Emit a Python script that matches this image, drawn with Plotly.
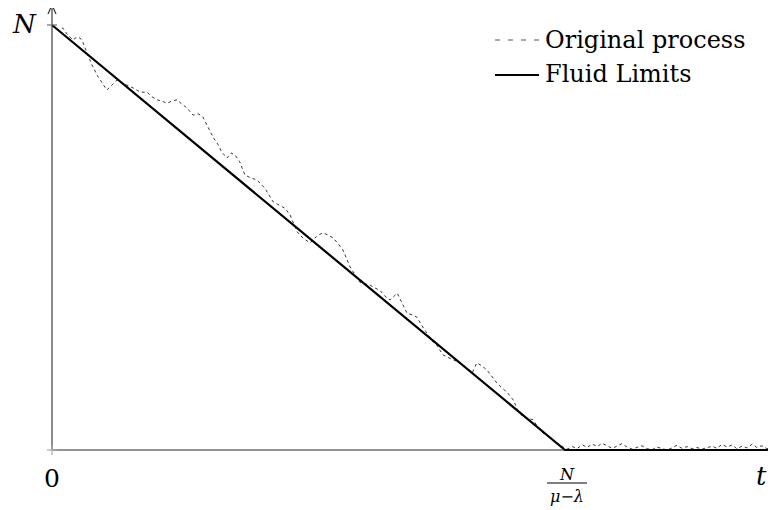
import plotly.graph_objects as go

# ---- data (t in units of N/(mu-lambda), N normalised to 1) ----
proc_t = [0.000, 0.012, 0.021, 0.031, 0.041, 0.049, 0.055, 0.060, 0.070, 0.078,
          0.088, 0.097, 0.107, 0.117, 0.127, 0.136, 0.146, 0.158, 0.172, 0.185,
          0.195, 0.205, 0.214, 0.224, 0.234, 0.244, 0.253, 0.263, 0.275, 0.285,
          0.294, 0.302, 0.314, 0.324, 0.331, 0.341, 0.349, 0.357, 0.366, 0.376,
          0.388, 0.400, 0.415, 0.431, 0.444, 0.454, 0.464, 0.478, 0.489, 0.503,
          0.517, 0.528, 0.538, 0.548, 0.558, 0.567, 0.581, 0.591, 0.600, 0.610,
          0.620, 0.630, 0.639, 0.649, 0.659, 0.673, 0.682, 0.692, 0.702, 0.711,
          0.723, 0.733, 0.743, 0.750, 0.762, 0.770, 0.782, 0.795, 0.807, 0.819,
          0.828, 0.838, 0.848, 0.858, 0.867, 0.877, 0.887, 0.899, 0.908, 0.918,
          0.928, 0.938, 0.947, 0.957, 0.971, 0.984, 0.996,
          1.004, 1.014, 1.024, 1.034, 1.043, 1.053, 1.063, 1.072, 1.082, 1.092,
          1.101, 1.111, 1.121, 1.131, 1.140, 1.150, 1.160, 1.170, 1.179, 1.189,
          1.199, 1.209, 1.218, 1.228, 1.238, 1.248, 1.257, 1.267, 1.277, 1.287,
          1.296, 1.306, 1.316, 1.326, 1.335, 1.345, 1.355, 1.365, 1.374, 1.384,
          1.394, 1.404, 1.413]
proc_n = [1.000, 0.988, 0.993, 0.976, 0.965, 0.972, 0.969, 0.960, 0.929, 0.906,
          0.882, 0.866, 0.847, 0.859, 0.871, 0.864, 0.859, 0.852, 0.842, 0.842,
          0.831, 0.824, 0.821, 0.816, 0.821, 0.824, 0.814, 0.805, 0.788, 0.791,
          0.784, 0.765, 0.736, 0.718, 0.701, 0.687, 0.699, 0.694, 0.678, 0.647,
          0.640, 0.635, 0.616, 0.584, 0.576, 0.569, 0.553, 0.513, 0.499, 0.487,
          0.504, 0.511, 0.506, 0.499, 0.485, 0.471, 0.431, 0.412, 0.395, 0.391,
          0.388, 0.381, 0.376, 0.362, 0.353, 0.369, 0.346, 0.322, 0.318, 0.313,
          0.289, 0.271, 0.254, 0.247, 0.224, 0.219, 0.212, 0.205, 0.193, 0.181,
          0.205, 0.198, 0.188, 0.172, 0.158, 0.146, 0.136, 0.118, 0.094, 0.078,
          0.075, 0.071, 0.054, 0.040, 0.028, 0.016, 0.007,
          0.002, 0.008, 0.004, 0.012, 0.006, 0.014, 0.008, 0.016, 0.010, 0.004,
          0.009, 0.015, 0.007, 0.002, 0.006, 0.010, 0.003, 0.001, 0.007, 0.004,
          0.000, 0.005, 0.011, 0.004, 0.008, 0.003, 0.006, 0.002, 0.005, 0.009,
          0.004, 0.013, 0.007, 0.012, 0.003, 0.009, 0.005, 0.014, 0.006, 0.010,
          0.003, 0.008, 0.004]
fluid_t = [0.0, 1.0, 1.42]
fluid_n = [1.0, 0.0, 0.0]

# page geometry (browser body has an 8px margin)
WIN_W, WIN_H = 776, 510
OFF = 8
W, H = WIN_W - OFF, WIN_H - OFF
X0, Y0 = 52, 450          # origin in window px
SX, SY = 513, 425         # px per unit

FONT = "DejaVu Serif"
AX = "#6e6e6e"


def px(x):
    return (x - OFF) / W


def py(y):
    return 1 - (y - OFF) / H


fig = go.Figure()
fig.add_trace(go.Scatter(x=proc_t, y=proc_n, mode="lines", name="Original process",
                         line=dict(color="#222222", width=0.9, dash="3px,3px"),
                         showlegend=False, hoverinfo="skip"))
fig.add_trace(go.Scatter(x=fluid_t, y=fluid_n, mode="lines", name="Fluid Limits",
                         line=dict(color="black", width=2.2),
                         showlegend=False, hoverinfo="skip"))

shapes = []
# axes
shapes.append(dict(type="line", xref="paper", yref="paper", x0=px(X0), x1=1.0,
                   y0=py(Y0), y1=py(Y0), line=dict(color=AX, width=1.6), layer="below"))
shapes.append(dict(type="line", xref="paper", yref="paper", x0=px(X0), x1=px(X0),
                   y0=py(Y0), y1=py(5), line=dict(color=AX, width=1.6), layer="below"))
# arrow head on y axis
shapes.append(dict(type="line", xref="paper", yref="paper", x0=px(X0), x1=px(X0 - 4),
                   y0=py(5), y1=py(14), line=dict(color="#333", width=1.2)))
shapes.append(dict(type="line", xref="paper", yref="paper", x0=px(X0), x1=px(X0 + 4),
                   y0=py(5), y1=py(14), line=dict(color="#333", width=1.2)))
# ticks
shapes.append(dict(type="line", xref="paper", yref="paper", x0=px(X0 - 5), x1=px(X0 + 5),
                   y0=py(25), y1=py(25), line=dict(color=AX, width=1.2)))
shapes.append(dict(type="line", xref="paper", yref="paper", x0=px(X0 - 5), x1=px(X0 + 5),
                   y0=py(Y0), y1=py(Y0), line=dict(color="#aaa", width=1.2)))
shapes.append(dict(type="line", xref="paper", yref="paper", x0=px(X0), x1=px(X0),
                   y0=py(Y0 - 5), y1=py(Y0 + 5), line=dict(color="#aaa", width=1.2)))
# fraction bar
shapes.append(dict(type="line", xref="paper", yref="paper", x0=px(547), x1=px(587),
                   y0=py(483), y1=py(483), line=dict(color="black", width=1)))
# legend samples
shapes.append(dict(type="line", xref="paper", yref="paper", x0=px(495), x1=px(539),
                   y0=py(40), y1=py(40), line=dict(color="#555", width=1, dash="5px,8px")))
shapes.append(dict(type="line", xref="paper", yref="paper", x0=px(495), x1=px(539),
                   y0=py(75), y1=py(75), line=dict(color="black", width=2)))


def txt(x, y, s, size, xa="center", italic=False):
    font = dict(family=FONT, size=size, color="black")
    if italic:
        font["style"] = "italic"
    return dict(xref="paper", yref="paper", x=px(x), y=py(y), text=s, showarrow=False,
                xanchor=xa, yanchor="middle", font=font)


annotations = [
    txt(24, 24, "N", 26, italic=True),
    txt(52, 478, "0", 25),
    txt(761, 476, "t", 26, italic=True),
    txt(567, 474, "N", 16, italic=True),
    txt(567, 496, "μ−λ", 16, italic=True),
    txt(543, 40, "Original process", 24, xa="left"),
    txt(543, 74, "Fluid Limits", 24, xa="left"),
]

fig.update_layout(
    width=W, height=H, margin=dict(l=0, r=0, t=0, b=0),
    paper_bgcolor="white", plot_bgcolor="white",
    xaxis=dict(range=[(OFF - X0) / SX, (WIN_W - X0) / SX], visible=False, fixedrange=True),
    yaxis=dict(range=[(Y0 - WIN_H) / SY, (Y0 - OFF) / SY], visible=False, fixedrange=True),
    shapes=shapes, annotations=annotations, showlegend=False,
)

fig.write_html("out.html")
